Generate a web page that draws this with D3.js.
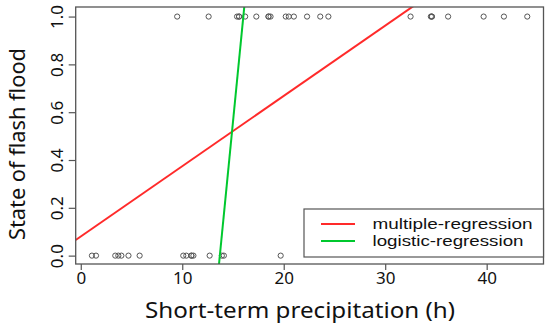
<!DOCTYPE html>
<html>
<head>
<meta charset="utf-8">
<script src="https://cdn.jsdelivr.net/npm/d3@7"></script>
<style>
  body { margin: 0; background: #fff; }
  text { font-family: "Noto Sans", sans-serif; fill: #111; }
</style>
</head>
<body>
<div id="main"></div>
<script>
// observed events: precipitation (h) where flash flood occurred / did not occur
var floodYes = [9.5, 12.6, 15.4, 15.6, 15.6, 16.2, 17.3, 18.5, 18.5, 18.7, 20.2, 20.5, 21.0, 22.3, 23.6, 24.4, 32.5, 34.5, 34.6, 34.6, 36.2, 39.7, 41.7, 44.0]
var floodNo = [1.1, 1.5, 3.4, 3.7, 4.0, 4.7, 5.8, 10.1, 10.4, 10.9, 10.9, 11.1, 12.7, 13.9, 14.1, 19.7]
var xTicks = [0, 10, 20, 30, 40]
var yTicks = [0, 0.2, 0.4, 0.6, 0.8, 1.0]
// fitted lines: y = a + b * x
var models = [
  { name: "multiple-regression", a: 0.080, b: 0.0294, color: "#ff2a2a" },
  { name: "logistic-regression", a: -5.92, b: 0.432, color: "#00c82e" }
]

var svg = d3.select("#main").append("svg").attr("width", 550).attr("height", 327)

var x = d3.scaleLinear().domain([-0.5, 45.6]).range([75.7, 543.5])
var y = d3.scaleLinear().domain([-0.035, 1.04]).range([264, 7])

svg.append("clipPath").attr("id", "plotclip")
  .append("rect")
  .attr("x", x(-0.5)).attr("y", y(1.04))
  .attr("width", x(45.6) - x(-0.5)).attr("height", y(-0.035) - y(1.04))

// axes
var xAxis = svg.append("g").attr("transform", "translate(0," + y(-0.035) + ")")
  .call(d3.axisBottom(x).tickValues(xTicks).tickSize(6).tickFormat(d3.format("d")))
xAxis.select(".domain").remove()
xAxis.selectAll("line").attr("stroke", "#555").attr("stroke-width", 1.2)
xAxis.selectAll("text").attr("font-size", 17).attr("y", 8).attr("fill", "#111")
  .style("font-family", "Noto Sans")

var yAxis = svg.append("g").attr("transform", "translate(" + x(-0.5) + ",0)")
  .call(d3.axisLeft(y).tickValues(yTicks).tickSize(7).tickFormat(d3.format(".1f")))
yAxis.select(".domain").remove()
yAxis.selectAll("line").attr("stroke", "#555").attr("stroke-width", 1.2)
yAxis.selectAll("text")
  .attr("x", 0).attr("dy", 0).attr("y", 0)
  .attr("text-anchor", "middle")
  .attr("transform", "translate(-12.5,0) rotate(-90)")
  .attr("font-size", 17).attr("fill", "#111")
  .style("font-family", "Noto Sans")

// points
var pts = floodYes.map(d => ({ x: d, y: 1 })).concat(floodNo.map(d => ({ x: d, y: 0 })))
svg.append("g").selectAll("circle")
  .data(pts)
  .enter()
  .append("circle")
  .attr("cx", d => x(d.x))
  .attr("cy", d => y(d.y))
  .attr("r", 2.6)
  .attr("fill", "none")
  .attr("stroke", "#555")
  .attr("stroke-width", 1)

// regression lines
svg.append("g").attr("clip-path", "url(#plotclip)")
  .selectAll("line")
  .data(models)
  .enter()
  .append("line")
  .attr("x1", d => x(-0.5))
  .attr("y1", d => y(d.a + d.b * -0.5))
  .attr("x2", d => x(45.6))
  .attr("y2", d => y(d.a + d.b * 45.6))
  .attr("stroke", d => d.color)
  .attr("stroke-width", 2)

// plot frame
svg.append("rect")
  .attr("x", x(-0.5)).attr("y", y(1.04))
  .attr("width", x(45.6) - x(-0.5)).attr("height", y(-0.035) - y(1.04))
  .attr("fill", "none").attr("stroke", "#555").attr("stroke-width", 1.3)

// legend
var lg = svg.append("g")
lg.append("rect")
  .attr("x", 304).attr("y", 209).attr("width", 239.5).attr("height", 48)
  .attr("fill", "#fff").attr("stroke", "#555").attr("stroke-width", 1.2)
var items = lg.selectAll("g.item")
  .data(models)
  .enter()
  .append("g")
  .attr("transform", (d, i) => "translate(0," + (224 + i * 17) + ")")
items.append("line")
  .attr("x1", 321).attr("x2", 355).attr("y1", 0).attr("y2", 0)
  .attr("stroke", d => d.color).attr("stroke-width", 2)
items.append("text")
  .attr("x", 372.5).attr("y", 5)
  .attr("font-size", 15)
  .style("font-family", "Liberation Sans, Arial, sans-serif")
  .attr("textLength", (d, i) => i === 0 ? 160 : 151)
  .attr("lengthAdjust", "spacingAndGlyphs")
  .text(d => d.name)

// axis titles
svg.append("text")
  .attr("x", 300).attr("y", 318)
  .attr("text-anchor", "middle")
  .attr("font-size", 22)
  .attr("textLength", 310).attr("lengthAdjust", "spacingAndGlyphs")
  .text("Short-term precipitation (h)")

svg.append("text")
  .attr("transform", "translate(25,144) rotate(-90)")
  .attr("text-anchor", "middle")
  .attr("font-size", 22)
  .attr("textLength", 192).attr("lengthAdjust", "spacingAndGlyphs")
  .text("State of flash flood")
</script>
</body>
</html>
